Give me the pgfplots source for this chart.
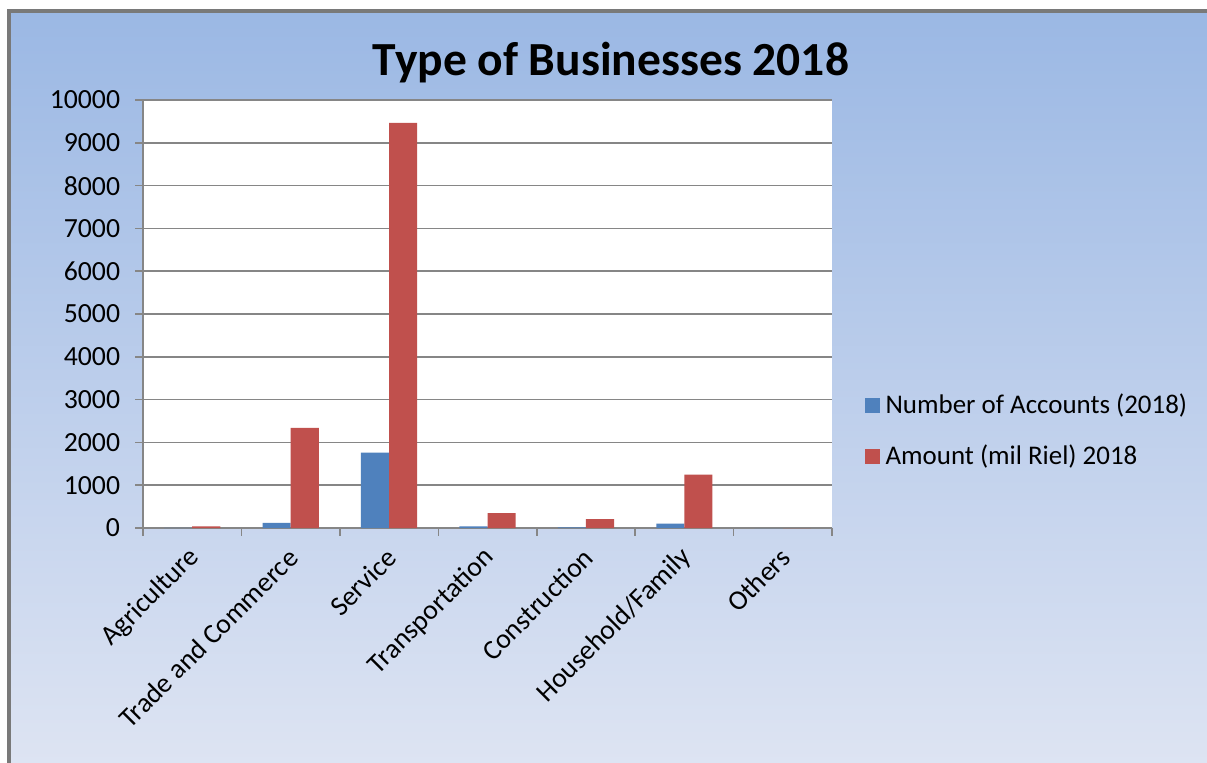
\documentclass[border=0pt]{standalone}
\usepackage{pgfplots}
\pgfplotsset{compat=1.18}
\usepackage{fontspec}
\setmainfont{Carlito}
\definecolor{accblue}{RGB}{79,129,189}
\definecolor{amtred}{RGB}{192,80,77}
\definecolor{bgtop}{RGB}{155,184,228}
\definecolor{bgbot}{RGB}{223,229,243}
\definecolor{gridgray}{RGB}{134,134,134}
\begin{document}
\begin{tikzpicture}
% 1 px of the reference = 0.3788pt
\begin{scope}[x=0.3788pt,y=0.3788pt]
\useasboundingbox (0,0) rectangle (1207,762);
\shade[top color=bgtop, bottom color=bgbot] (9,-20) rectangle (1230,751);
\draw[color=gray!95!black, line width=1.8pt] (9,-20) -- (9,751) -- (1230,751);
\node[font=\fontsize{18}{22}\selectfont\bfseries] at (611,699) {Type of Businesses 2018};
\end{scope}
\begin{axis}[
    at={(54.17pt,88.64pt)}, anchor=south west,
    scale only axis,
    width=261pt, height=162.1pt,
    axis background/.style={fill=white},
    ybar=0pt,
    bar width=0.2857,
    xmin=-0.5, xmax=6.5,
    ymin=0, ymax=10000,
    ytick={0,1000,...,10000},
    xtick={0,...,6},
    xticklabels={Agriculture,Trade and Commerce,Service,Transportation,Construction,Household/Family,Others},
    minor xtick={-0.5,0.5,...,6.5},
    major x tick style={draw=none},
    tick align=outside,
    major tick length=3pt,
    minor tick length=3pt,
    tick style={gridgray, line width=0.6pt},
    axis x line*=bottom,
    axis y line*=left,
    axis line style={gridgray, line width=0.7pt, -},
    ymajorgrids=true,
    grid style={gridgray, line width=0.6pt},
    /pgf/number format/assume math mode=true,
    /pgf/number format/1000 sep={},
    scaled y ticks=false,
    ticklabel style={font=\fontsize{10.5}{12}\selectfont},
    xticklabel style={rotate=45, anchor=east, inner sep=1pt, yshift=-5.3pt, xshift=-2.8pt},
    yticklabel style={inner sep=2pt, xshift=-3.5pt},
    legend style={
        at={(1.036,0.2266)}, anchor=west,
        draw=none, fill=none,
        font=\fontsize{10.2}{12}\selectfont,
        row sep=6.5pt,
        legend cell align=left,
        /tikz/every even column/.append style={column sep=2pt},
    },
    legend image code/.code={\fill[#1] (0pt,-2.85pt) rectangle (5.7pt,2.85pt);},
]
\addplot[fill=accblue, draw=none] coordinates {
    (0,5) (1,120) (2,1760) (3,40) (4,15) (5,100) (6,0)
};
\addplot[fill=amtred, draw=none] coordinates {
    (0,40) (1,2340) (2,9470) (3,350) (4,210) (5,1250) (6,0)
};
\legend{Number of Accounts (2018),Amount (mil Riel) 2018}
\end{axis}
\end{tikzpicture}
\end{document}
